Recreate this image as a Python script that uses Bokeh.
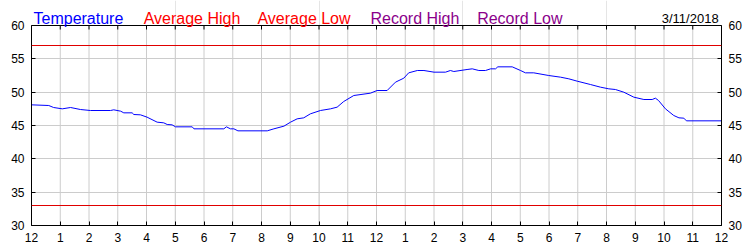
from bokeh.plotting import figure
from bokeh.models import Range1d, LinearAxis, FixedTicker, Label, Span, Grid
from bokeh.embed import file_html
from bokeh.resources import INLINE

# ---- data ----
hours = [0.0, 0.60, 0.77, 1.07, 1.36, 1.70, 2.05, 2.75, 2.86, 3.10, 3.21, 3.50, 3.56,
         3.79, 4.02, 4.37, 4.60, 4.72, 4.89, 5.01, 5.59, 5.65, 6.69, 6.78, 6.92, 7.04,
         7.18, 8.20, 8.43, 8.78, 9.01, 9.24, 9.47, 9.70, 10.05, 10.40, 10.63, 10.86,
         11.21, 11.79, 12.02, 12.37, 12.66, 12.95, 13.12, 13.42, 13.65, 14.00, 14.40,
         14.57, 14.69, 15.15, 15.33, 15.56, 15.79, 15.97, 16.14, 16.22, 16.72, 17.01,
         17.18, 17.47, 17.99, 18.40, 18.69, 18.98, 19.44, 19.79, 20.08, 20.31, 20.60,
         20.95, 21.30, 21.59, 21.70, 21.81, 22.05, 22.34, 22.52, 22.69, 22.78, 24.0]
temps = [48.1, 48.0, 47.7, 47.5, 47.7, 47.4, 47.25, 47.25, 47.35, 47.15, 46.9, 46.9, 46.65,
         46.6, 46.25, 45.5, 45.4, 45.15, 45.1, 44.8, 44.8, 44.5, 44.5, 44.8, 44.5, 44.5,
         44.2, 44.2, 44.5, 44.9, 45.5, 46.0, 46.15, 46.75, 47.25, 47.5, 47.75, 48.6,
         49.5, 49.85, 50.25, 50.25, 51.5, 52.1, 52.9, 53.25, 53.25, 53.0, 53.0,
         53.25, 53.1, 53.4, 53.5, 53.25, 53.25, 53.5, 53.5, 53.8, 53.8, 53.25,
         52.9, 52.9, 52.5, 52.25, 52.0, 51.65, 51.15, 50.75, 50.5, 50.4, 50.0,
         49.25, 48.9, 48.9, 49.1, 48.75, 47.5, 46.5, 46.15, 46.1, 45.7, 45.7]
average_high = 57
average_low = 33
x_ticks = list(range(0, 25))
x_tick_labels = ["12", "1", "2", "3", "4", "5", "6", "7", "8", "9", "10", "11",
                 "12", "1", "2", "3", "4", "5", "6", "7", "8", "9", "10", "11", "12"]
y_ticks = [30, 35, 40, 45, 50, 55, 60]
legend_names = ["Temperature", "Average High", "Average Low", "Record High", "Record Low"]
legend_colors = ["#0000FF", "#FF0000", "#FF0000", "#8B008B", "#8B008B"]
legend_x = [0.07, 3.90, 7.86, 11.79, 15.50]
date_text = "3/11/2018"

FONT = "Liberation Sans"
Y_MIN, Y_MAX = min(y_ticks), max(y_ticks)
X_MIN, X_MAX = min(x_ticks), max(x_ticks)
PX_PER_DEG = 200.0 / (Y_MAX - Y_MIN)   # plot area is 200 px tall
TOP_PAD = 25                            # px above the plot area for the header

p = figure(width=750, height=250, output_backend="svg", toolbar_location=None, title=None,
           x_range=Range1d(X_MIN, X_MAX),
           y_range=Range1d(Y_MIN, Y_MAX + TOP_PAD / PX_PER_DEG),
           min_border_left=31, min_border_right=29, min_border_top=0, min_border_bottom=25,
           x_axis_location=None, y_axis_location=None)
p.background_fill_color = "white"
p.border_fill_color = "white"
p.outline_line_color = None

def style_axis(ax):
    ax.axis_line_color = "black"
    ax.major_tick_in = 4
    ax.major_tick_out = 0
    ax.minor_tick_line_color = None
    ax.major_tick_line_color = "black"
    ax.major_label_text_font = FONT
    ax.major_label_text_font_size = "12px"
    ax.major_label_text_color = "black"
    ax.major_label_standoff = 7

xb = LinearAxis(ticker=FixedTicker(ticks=x_ticks))
xb.major_label_overrides = {t: l for t, l in zip(x_ticks, x_tick_labels)}
style_axis(xb)
p.add_layout(xb, "below")

yl = LinearAxis(ticker=FixedTicker(ticks=y_ticks), bounds=(Y_MIN, Y_MAX))
style_axis(yl)
p.add_layout(yl, "left")

yr = LinearAxis(ticker=FixedTicker(ticks=y_ticks), bounds=(Y_MIN, Y_MAX))
style_axis(yr)
p.add_layout(yr, "right")

# grids
p.add_layout(Grid(dimension=1, ticker=FixedTicker(ticks=y_ticks), grid_line_color="#CCCCCC"))
p.segment(x0=x_ticks, y0=[Y_MIN] * len(x_ticks), x1=x_ticks, y1=[Y_MAX] * len(x_ticks),
          line_color="#CCCCCC", line_width=1)
# inward ticks on the top border
p.segment(x0=x_ticks, y0=[Y_MAX] * len(x_ticks), x1=x_ticks,
          y1=[Y_MAX - 4 / PX_PER_DEG] * len(x_ticks), line_color="black", line_width=1)

# top border of plot area
p.add_layout(Span(location=Y_MAX, dimension="width", line_color="black", line_width=1))

# average lines
p.add_layout(Span(location=average_high, dimension="width", line_color="#E00000", line_width=1))
p.add_layout(Span(location=average_low, dimension="width", line_color="#E00000", line_width=1))

# temperature
p.line(x=hours, y=temps, line_color="#0000FF", line_width=1)

# header legend
for name, col, lx in zip(legend_names, legend_colors, legend_x):
    p.add_layout(Label(x=lx, y=Y_MAX + 7 / PX_PER_DEG, text=name, text_color=col,
                       text_font=FONT, text_font_size="16px",
                       text_baseline="alphabetic", text_align="left"))
p.add_layout(Label(x=23.90, y=Y_MAX + 7.5 / PX_PER_DEG, text=date_text, text_color="black",
                   text_font=FONT, text_font_size="13px",
                   text_baseline="alphabetic", text_align="right"))

open("out.html", "w").write(file_html(p, INLINE))
